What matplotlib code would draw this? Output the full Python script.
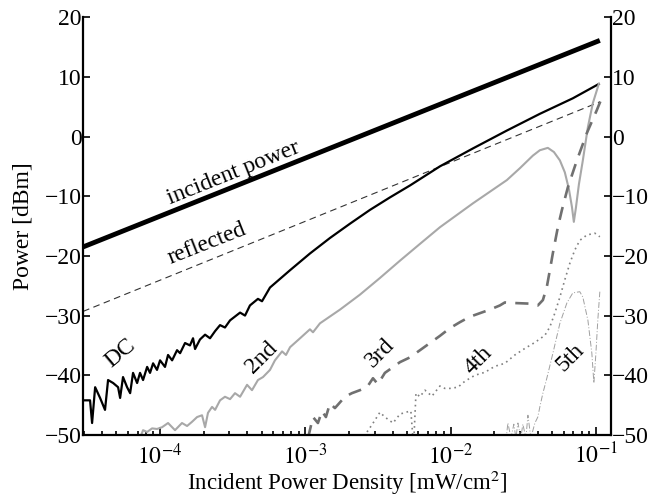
import numpy as np
import matplotlib
matplotlib.use('Agg')
import matplotlib.pyplot as plt

plt.rcParams['font.family'] = 'serif'
plt.rcParams['font.serif'] = ['Liberation Serif', 'DejaVu Serif']
plt.rcParams['mathtext.fontset'] = 'stix'

# positions are log10 of incident power density [mW/cm^2], levels in dBm
inc_lx = np.array([-4.530, -0.972])
inc_db = np.array([-18.5, 16.1])

refl_lx = np.array([-4.530, -0.972])
refl_db = np.array([-29.3, 5.8])

dc_lx = np.array([-4.530, -4.482, -4.468, -4.447, -4.413, -4.379, -4.358, -4.323, -4.289,
                  -4.275, -4.255, -4.227, -4.206, -4.186, -4.158, -4.138, -4.117, -4.089,
                  -4.069, -4.048, -4.021, -4.000, -3.966, -3.945, -3.917, -3.883, -3.862,
                  -3.828, -3.794, -3.773, -3.759, -3.725, -3.690, -3.656, -3.621, -3.587,
                  -3.553, -3.518, -3.449, -3.415, -3.381, -3.326, -3.298, -3.243, -3.105,
                  -2.968, -2.830, -2.692, -2.555, -2.417, -2.279, -2.073, -1.846, -1.612,
                  -1.385, -1.158, -0.979])
dc_db = np.array([-44.2, -44.2, -48.0, -42.0, -43.8, -45.8, -40.8, -41.3, -42.0,
                  -43.8, -40.3, -42.0, -43.0, -39.6, -41.3, -39.6, -40.8, -38.6,
                  -39.6, -38.0, -39.1, -37.5, -38.6, -36.6, -37.5, -35.8, -36.3,
                  -34.6, -35.0, -33.8, -35.6, -34.0, -33.2, -33.8, -32.6, -31.6,
                  -32.0, -30.8, -29.5, -30.0, -28.3, -27.2, -27.6, -25.3, -22.4,
                  -19.6, -17.0, -14.6, -12.3, -10.2, -8.2, -5.0, -2.0, 1.0,
                  3.8, 6.4, 8.8])

h2_lx = np.array([-4.138, -4.117, -4.089, -4.055, -4.021, -3.986, -3.945, -3.897, -3.849,
                  -3.814, -3.780, -3.745, -3.711, -3.690, -3.670, -3.642, -3.621, -3.587,
                  -3.553, -3.518, -3.484, -3.449, -3.401, -3.367, -3.326, -3.291, -3.243,
                  -3.209, -3.160, -3.133, -3.105, -3.036, -2.968, -2.947, -2.899, -2.761,
                  -2.624, -2.486, -2.348, -2.211, -2.073, -1.846, -1.612, -1.522, -1.433,
                  -1.385, -1.330, -1.288, -1.247, -1.213, -1.185, -1.164, -1.151, -1.137,
                  -1.116, -1.089, -1.054, -1.020, -0.979])
h2_db = np.array([-50.5, -49.2, -49.5, -48.9, -49.0, -48.7, -48.0, -49.2, -48.0,
                  -48.5, -47.8, -47.0, -46.7, -48.7, -46.3, -45.3, -45.8, -44.2,
                  -43.6, -44.0, -43.0, -43.6, -41.6, -42.5, -40.8, -40.3, -39.1,
                  -37.5, -36.0, -36.6, -35.3, -33.8, -32.3, -32.8, -31.3, -29.0,
                  -26.5, -23.7, -20.8, -18.0, -15.2, -11.2, -7.3, -5.3, -3.2,
                  -2.3, -1.9, -2.6, -4.0, -6.0, -8.8, -11.8, -14.3, -12.0,
                  -8.0, -4.0, 1.6, 5.6, 8.8])

h3_lx = np.array([-2.981, -2.947, -2.913, -2.885, -2.858, -2.830, -2.796, -2.727, -2.679,
                  -2.624, -2.575, -2.534, -2.500, -2.452, -2.348, -2.279, -2.176, -2.073,
                  -2.004, -1.935, -1.867, -1.798, -1.729, -1.660, -1.626, -1.557, -1.454,
                  -1.399, -1.364, -1.337, -1.316, -1.295, -1.261, -1.233, -1.192, -1.130,
                  -1.061, -0.993, -0.958])
h3_db = np.array([-50.5, -47.0, -48.0, -46.0, -47.0, -44.7, -45.5, -43.6, -43.0,
                  -42.5, -42.0, -40.5, -41.5, -39.6, -37.8, -37.0, -35.2, -33.4,
                  -32.1, -31.1, -30.2, -29.6, -29.0, -28.3, -27.8, -27.9, -28.0,
                  -28.3, -27.4, -25.2, -22.4, -19.5, -15.2, -12.3, -8.5, -4.0,
                  0.6, 4.4, 6.5])

h4_lx = np.array([-2.575, -2.541, -2.486, -2.452, -2.396, -2.348, -2.279, -2.273, -2.259,
                  -2.252, -2.238, -2.211, -2.176, -2.128, -2.073, -2.039, -2.004, -1.949,
                  -1.901, -1.832, -1.763, -1.695, -1.626, -1.557, -1.488, -1.419, -1.350,
                  -1.316, -1.282, -1.247, -1.213, -1.178, -1.144, -1.110, -1.061, -1.006,
                  -0.972])
h4_db = np.array([-49.5, -48.3, -46.2, -47.0, -48.0, -46.5, -46.0, -46.0, -50.5,
                  -50.5, -43.0, -43.6, -42.5, -43.5, -41.8, -42.2, -42.2, -42.0,
                  -41.0, -40.0, -39.5, -38.5, -38.0, -36.6, -35.5, -34.5, -33.3,
                  -31.9, -29.6, -26.9, -24.0, -21.2, -19.0, -17.4, -16.5, -16.2,
                  -16.8])

h5_lx = np.array([-1.619, -1.605, -1.584, -1.564, -1.550, -1.536, -1.516, -1.502, -1.481,
                  -1.467, -1.447, -1.419, -1.399, -1.385, -1.364, -1.337, -1.295, -1.247,
                  -1.199, -1.158, -1.110, -1.089, -1.054, -1.027, -1.013, -0.999, -0.986,
                  -0.972])
h5_db = np.array([-51.0, -48.0, -50.5, -48.2, -50.5, -48.0, -50.5, -48.2, -50.5,
                  -46.7, -50.5, -48.0, -47.0, -45.3, -43.0, -40.5, -36.3, -31.3,
                  -27.9, -26.2, -26.0, -26.9, -30.8, -36.3, -41.3, -36.3, -30.8,
                  -26.0])

labels = ['incident power', 'reflected', 'DC', '2nd', '3rd', '4th', '5th']
label_lx = [-3.497, -3.677, -4.275, -3.300, -2.486, -1.810, -1.178]
label_db = [-6.1, -17.9, -36.3, -37.0, -36.3, -37.5, -37.0]
label_rot = [21.8, 21.5, 40, 45, 45, 45, 45]

fig = plt.figure(figsize=(6.54, 5.04), dpi=100)
ax = fig.add_axes([0.127, 0.137, 0.807, 0.829])

ax.semilogx(10**inc_lx, inc_db, color='black', lw=3.5, solid_capstyle='butt')
ax.semilogx(10**refl_lx, refl_db, color='#333333', lw=0.8, dashes=(6, 4))
ax.semilogx(10**dc_lx, dc_db, color='black', lw=1.6)
ax.semilogx(10**h2_lx, h2_db, color='#a8a8a8', lw=1.5)
ax.semilogx(10**h3_lx, h3_db, color='#707070', lw=1.9, dashes=(5, 3.5))
ax.semilogx(10**h4_lx, h4_db, color='#808080', lw=1.2, dashes=(1, 2.2))
ax.semilogx(10**h5_lx, h5_db, color='#a0a0a0', lw=0.7, dashes=(6, 2, 1, 2))

for txt, lx, db, rot in zip(labels, label_lx, label_db, label_rot):
    ax.text(10**lx, db, txt, fontsize=17, rotation=rot, rotation_mode='anchor',
            ha='center', va='center')

ax.set_xlim(2.95e-5, 0.127)
ax.set_ylim(-50, 20)
ax.set_yticks([-50, -40, -30, -20, -10, 0, 10, 20])
ax.set_xticks([1e-4, 1e-3, 1e-2, 1e-1])
ax.set_xticklabels([r'$10^{-4}$', r'$10^{-3}$', r'$10^{-2}$', r'$10^{-1}$'])

ax.spines['top'].set_visible(False)
for side in ['left', 'right', 'bottom']:
    ax.spines[side].set_linewidth(1.6)
ax.tick_params(axis='both', which='both', direction='in', labelsize=17, width=1.2)
ax.tick_params(axis='y', right=True, labelright=True, length=5, pad=1)
ax.tick_params(axis='x', which='major', length=6, pad=6)
ax.tick_params(axis='x', which='minor', length=3)
ax.tick_params(axis='x', top=False, which='both')

ax.set_xlabel('Incident Power Density [mW/cm$^2$]', fontsize=16.5, labelpad=0)
ax.set_ylabel('Power [dBm]', fontsize=17, labelpad=8)

fig.savefig('out.png', dpi=100)
